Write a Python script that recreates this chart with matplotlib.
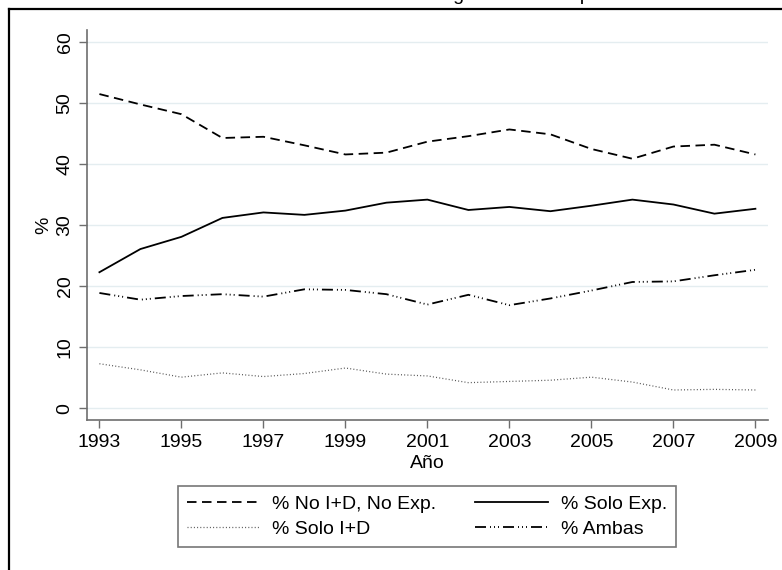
import matplotlib
matplotlib.use("Agg")
import matplotlib.pyplot as plt
from matplotlib.lines import Line2D

plt.rcParams['font.family'] = ['Liberation Sans', 'DejaVu Sans']
plt.rcParams['lines.scale_dashes'] = False

anios = list(range(1993, 2010))
no_id_no_exp = [51.5, 49.8, 48.2, 44.3, 44.5, 43.1, 41.6, 41.9, 43.7, 44.6,
                45.7, 44.9, 42.5, 40.9, 42.9, 43.2, 41.6]
solo_exp = [22.3, 26.1, 28.1, 31.2, 32.1, 31.7, 32.4, 33.7, 34.2, 32.5,
            33.0, 32.3, 33.2, 34.2, 33.4, 31.9, 32.7]
solo_id = [7.3, 6.3, 5.1, 5.8, 5.2, 5.7, 6.6, 5.6, 5.3, 4.2,
           4.4, 4.6, 5.1, 4.3, 3.0, 3.1, 3.0]
ambas = [18.9, 17.8, 18.4, 18.7, 18.3, 19.5, 19.4, 18.7, 17.0, 18.6,
         16.9, 18.0, 19.3, 20.7, 20.8, 21.8, 22.7]
xticks = list(range(1993, 2010, 2))
yticks = [0, 10, 20, 30, 40, 50, 60]

W, H = 782, 570
fig = plt.figure(figsize=(W / 100, H / 100), dpi=100)
ax = fig.add_axes([86.7 / W, 1 - 420 / H, (767.7 - 86.7) / W, (420 - 30) / H])

px = 0.72  # points per pixel
l1, = ax.plot(anios, no_id_no_exp, color='black', lw=1.3,
              dashes=(9.5 * px, 5.5 * px), label='% No I+D, No Exp.')
l2, = ax.plot(anios, solo_exp, color='black', lw=1.3, label='% Solo Exp.')
l3, = ax.plot(anios, solo_id, color='#555555', lw=0.9,
              dashes=(1 * px, 2.2 * px), label='% Solo I+D')
l4, = ax.plot(anios, ambas, color='black', lw=1.3,
              dashes=(11 * px, 4 * px, 1 * px, 3 * px, 1 * px, 3 * px, 1 * px, 4 * px),
              label='% Ambas')

ax.set_xlim(1992.69, 2009.30)
ax.set_ylim(-1.92, 62.0)
ax.set_xticks(xticks)
ax.set_yticks(yticks)
ax.set_yticklabels([str(v) for v in yticks], rotation=90, va='center')
ax.grid(axis='y', color='#e4edf0', lw=1.0)
ax.set_axisbelow(True)
for s in ['top', 'right']:
    ax.spines[s].set_visible(False)
for s in ['left', 'bottom']:
    ax.spines[s].set_color('#6e6e6e')
    ax.spines[s].set_linewidth(1.2)
ax.tick_params(colors='#6e6e6e', length=6, width=1, labelsize=14,
               labelcolor='black')
ax.tick_params(axis='x', pad=4)
ax.tick_params(axis='y', pad=3.5)

ax.set_xlabel('Año', fontsize=14, labelpad=3)
ax.set_ylabel('%', fontsize=14, labelpad=3)

# orden por columnas: fila 1 = No I+D / Solo Exp., fila 2 = Solo I+D / Ambas
handles = [l1, l3, l2, l4]
leg = fig.legend(handles, [h.get_label() for h in handles],
                 loc='center', bbox_to_anchor=(427 / W, 1 - 516.5 / H),
                 ncol=2, fontsize=14, frameon=True, fancybox=False,
                 handlelength=3.75, handletextpad=0.65, columnspacing=2.0,
                 borderpad=0.45, labelspacing=0.4, borderaxespad=0)
leg.get_frame().set_edgecolor('#555555')
leg.get_frame().set_linewidth(1.2)

# marco exterior del grafico
fig.add_artist(Line2D([9 / W, 9 / W], [1 - 9 / H, 0], color='black', lw=1.6))
fig.add_artist(Line2D([9 / W, 1], [1 - 9 / H, 1 - 9 / H], color='black', lw=1.6))

# titulo recortado en la parte superior (como en la referencia)
fig.text(391 / W, 1 + 0.5 / H, 'Estrategias de las empresas', fontsize=14,
         ha='left', va='baseline')

fig.savefig('out.png', dpi=100)
